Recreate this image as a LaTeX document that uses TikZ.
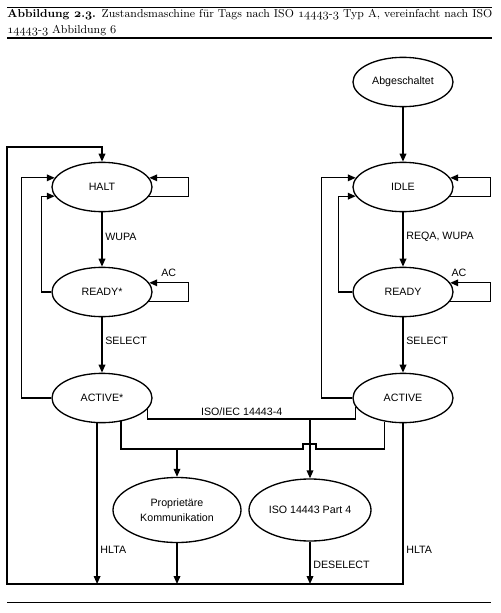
\documentclass[tikz,border=0pt]{standalone}
\usepackage{fontspec}
\usepackage{tikz}
\usetikzlibrary{shapes.geometric, arrows.meta, positioning}
\newfontfamily\diafont{Liberation Sans}
\newcommand{\osn}[1]{{\usefont{OML}{cmm}{m}{it}#1}}
\newcommand{\osb}[1]{{\usefont{OML}{cmm}{b}{it}#1}}

\begin{document}
\begin{tikzpicture}[x=0.75pt, y=-0.75pt, line join=miter,
    state/.style={ellipse, draw, line width=1pt, inner sep=0pt, minimum width=75pt, minimum height=37pt, align=center, font=\diafont\fontsize{8}{11}\selectfont},
    flow/.style={line width=1pt, -{Triangle[length=6pt, width=5pt]}},
    link/.style={line width=1pt},
    lbl/.style={font=\diafont\fontsize{8}{9.5}\selectfont, inner sep=2pt}]

    \useasboundingbox (0,0) rectangle (500,613);

    % caption with rules
    \draw[line width=0.6pt] (7,7) -- (492,7);
    \node[anchor=north west, inner sep=0pt, text width=363.75pt, align=justify, font=\fontsize{8.6}{11.6}\selectfont] (caption) at (7,9.5)
        {\textbf{Abbildung \osb{2}.\osb{3}.} Zustandsmaschine für Tags nach ISO \osn{14443}-\osn{3} Typ A, vereinfacht nach ISO\linebreak \osn{14443}-\osn{3} Abbildung \osn{6}};
    \draw[line width=0.9pt] (7,38) -- (492,38);
    \draw[line width=0.6pt] (7,602) -- (491,602);

    % states
    \node[state] (abg) at (403,82) {Abgeschaltet};
    \node[state] (halt) at (102,187) {HALT};
    \node[state] (readys) at (102,292) {READY*};
    \node[state] (actives) at (102,398) {ACTIVE*};
    \node[state] (idle) at (403,187) {IDLE};
    \node[state] (ready) at (403,292) {READY};
    \node[state] (active) at (403,398) {ACTIVE};
    \node[state, minimum width=96pt, minimum height=48.75pt] (prop) at (177,510) {Proprietäre\\Kommunikation};
    \node[state, minimum width=91.5pt, minimum height=46.5pt] (iso) at (310,510) {ISO 14443 Part 4};

    % corner points
    \coordinate (bl) at (7,584);
    \coordinate (tl) at (7,147);
    \coordinate (mj) at (310,419);
    \coordinate (pj) at (177,449);

    % left column
    \draw[flow] (halt) -- node[lbl, right, pos=0.45] {WUPA} (readys);
    \draw[flow] (readys) -- node[lbl, right, pos=0.43] {SELECT} (actives);
    \draw[flow] (halt.-11) -- ++(39,0) |- (halt.11);
    \draw[flow] (readys.-11) -- ++(39,0) |- node[lbl, above=2pt, pos=0.75] {AC} (readys.11);
    \draw[flow] (readys.west) -- ++(-10,0) |- (halt.191);
    \draw[flow] (actives.west) -- ++(-30,0) |- (halt.169);

    % right column
    \draw[flow] (abg) -- (idle);
    \draw[flow] (idle) -- node[lbl, right, pos=0.45] {REQA, WUPA} (ready);
    \draw[flow] (ready) -- node[lbl, right, pos=0.43] {SELECT} (active);
    \draw[flow] (idle.-11) -- ++(40,0) |- (idle.11);
    \draw[flow] (ready.-11) -- ++(40,0) |- node[lbl, above=2pt, pos=0.89] {AC} (ready.11);
    \draw[flow] (ready.west) -- ++(-14,0) |- (idle.191);
    \draw[flow] (active.west) -- ++(-31,0) |- (idle.169);

    % middle part
    \draw[link] (actives.-14) |- node[lbl, above, pos=0.79] {ISO/IEC 14443-4} (mj) -| (active.191);
    \draw[flow] (mj) -- (iso);
    \draw[link] (actives.-51) |- (pj) -- ++(126,0) -- ++(0,-5) -- ++(13,0) -- ++(0,5) -| (active.232);
    \draw[flow] (pj) -- (prop);

    % back to HALT
    \draw[flow] (active.south) -- node[lbl, right, pos=0.79] {HLTA} (active.south |- bl) -- (bl) -- (tl) -| (halt.north);
    \draw[flow] (actives.259) -- node[lbl, right, pos=0.79] {HLTA} (actives.259 |- bl);
    \draw[flow] (prop) -- (prop.south |- bl);
    \draw[flow] (iso) -- node[lbl, right, pos=0.55] {DESELECT} (iso.south |- bl);

\end{tikzpicture}
\end{document}
